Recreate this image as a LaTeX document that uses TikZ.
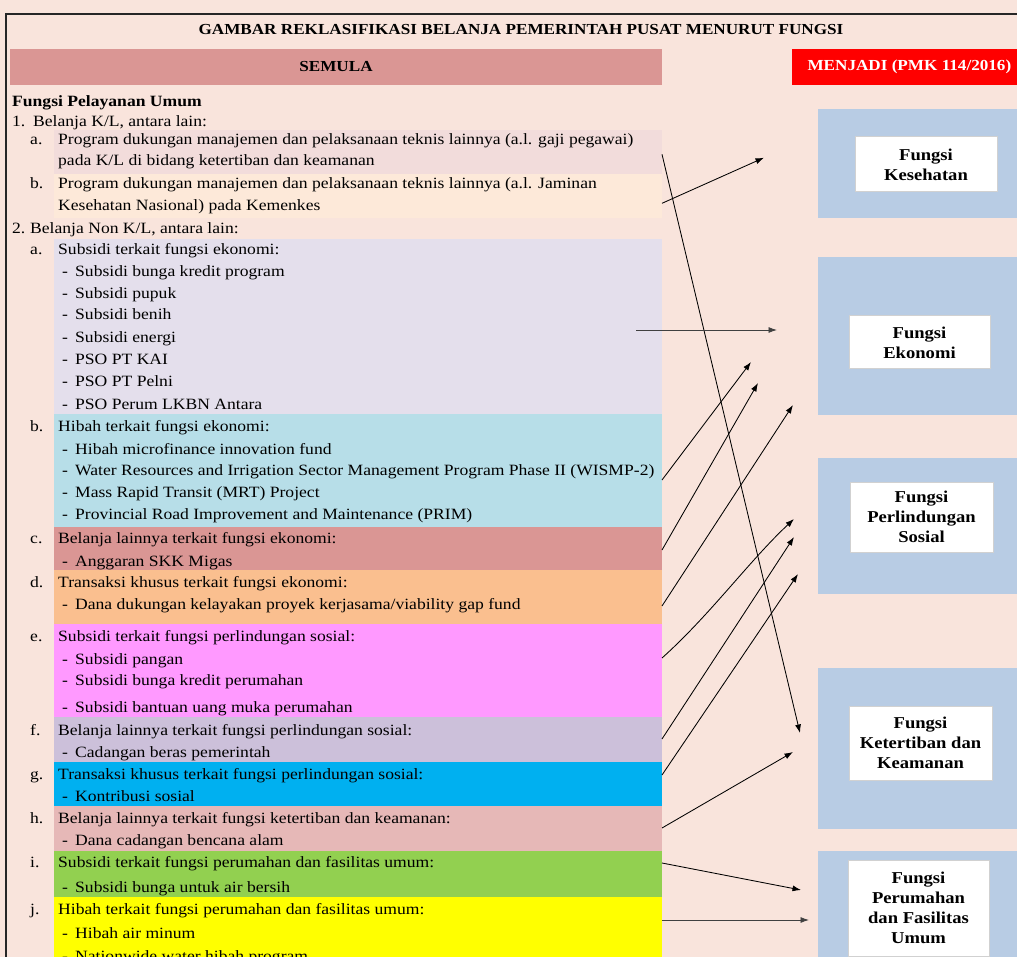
\documentclass[tikz,border=0pt]{standalone}
\usepackage{fontspec}
\setmainfont{Liberation Serif}[FakeStretch=1.12]
\usetikzlibrary{arrows.meta}
\definecolor{bg}{RGB}{249,228,220}
\definecolor{semula}{RGB}{218,150,148}
\definecolor{blu}{RGB}{184,204,228}
\definecolor{cA}{RGB}{242,220,219}
\definecolor{cB}{RGB}{253,233,217}
\definecolor{cC}{RGB}{228,223,236}
\definecolor{cD}{RGB}{183,222,232}
\definecolor{cE}{RGB}{218,150,148}
\definecolor{cF}{RGB}{250,191,143}
\definecolor{cG}{RGB}{255,153,255}
\definecolor{cH}{RGB}{204,192,218}
\definecolor{cI}{RGB}{0,176,240}
\definecolor{cJ}{RGB}{230,184,183}
\definecolor{cK}{RGB}{146,208,80}
\definecolor{cL}{RGB}{255,255,0}
\newcommand{\fsbody}{\fontsize{15.7}{18}\selectfont}
\newcommand{\fshead}{\fontsize{15.3}{17}\selectfont\bfseries}
\newcommand{\fsbox}{\fontsize{16.6}{20}\selectfont\bfseries}
\newcommand{\dsh}{\makebox[13pt][l]{-}}
\begin{document}
\begin{tikzpicture}[x=1pt,y=-1pt,
  txt/.style={anchor=base west, inner sep=0, font=\fsbody},
  rowbox/.style={anchor=north west, inner sep=0, minimum width=608pt, draw=none},
  bluebox/.style={fill=blu, anchor=north west, inner sep=0, minimum width=220pt},
  fbox/.style={fill=white, draw=black!18, line width=1pt, align=center, font=\fsbox, inner sep=0},
  arr/.style={-{Latex[length=8.5pt,width=6pt]}, line width=0.85pt}]
\useasboundingbox (0,0) rectangle (1017,957);
\clip (0,0) rectangle (1017,957);
\fill[bg] (0,0) rectangle (1017,957);
\draw[line width=2.5pt, black!85] (6,970) -- (6,14) -- (1030,14);

% header
\node[font=\fshead] (title) at (521,29.5) {GAMBAR REKLASIFIKASI BELANJA PEMERINTAH PUSAT MENURUT FUNGSI};
\node[fill=semula, anchor=north west, inner sep=0, minimum width=652pt, minimum height=35.5pt] (semula) at (10,49) {};
\node[font=\fshead] at (336,67) {SEMULA};
\node[fill=red, anchor=north west, inner sep=0, minimum width=240pt, minimum height=35.5pt] (menjadi) at (792,49) {};
\node[font=\fshead, text=white, anchor=west] at (804,67) {MENJADI (PMK 114/2016)};

% row boxes
\node[rowbox, fill=cA, minimum height=43.5pt] (r1a) at (54,130) {};
\node[rowbox, fill=cB, minimum height=44.5pt] (r1b) at (54,173.5) {};
\node[rowbox, fill=cC, minimum height=174.3pt] (r2a) at (54,239) {};
\node[rowbox, fill=cD, minimum height=113.4pt] (r2b) at (54,413.3) {};
\node[rowbox, fill=cE, minimum height=43.3pt] (r2c) at (54,526.7) {};
\node[rowbox, fill=cF, minimum height=53.3pt] (r2d) at (54,570) {};
\node[rowbox, fill=cG, minimum height=93.4pt] (r2e) at (54,623.3) {};
\node[rowbox, fill=cH, minimum height=45pt] (r2f) at (54,716.7) {};
\node[rowbox, fill=cI, minimum height=44.3pt] (r2g) at (54,761.7) {};
\node[rowbox, fill=cJ, minimum height=45pt] (r2h) at (54,806) {};
\node[rowbox, fill=cK, minimum height=45.7pt] (r2i) at (54,851) {};
\node[rowbox, fill=cL, minimum height=70pt] (r2j) at (54,896.7) {};

% left texts
\node[txt, font=\fsbody\bfseries] at (12,106.7) {Fungsi Pelayanan Umum};
\node[txt] at (12,126.7) {1.};
\node[txt] at (33,126.7) {Belanja K/L, antara lain:};
\node[txt] at (30,145) {a.};
\node[txt] at (58,145) {Program dukungan manajemen dan pelaksanaan teknis lainnya (a.l. gaji pegawai)};
\node[txt] at (58,165.5) {pada K/L di bidang ketertiban dan keamanan};
\node[txt] at (30,189) {b.};
\node[txt] at (58,189) {Program dukungan manajemen dan pelaksanaan teknis lainnya (a.l. Jaminan};
\node[txt] at (58,211) {Kesehatan Nasional) pada Kemenkes};
\node[txt] at (12,234) {2.};
\node[txt] at (30,234) {Belanja Non K/L, antara lain:};

\node[txt] at (30,255) {a.};
\node[txt] at (58,255) {Subsidi terkait fungsi ekonomi:};
\node[txt] at (62,276.7) {\dsh Subsidi bunga kredit program};
\node[txt] at (62,298.3) {\dsh Subsidi pupuk};
\node[txt] at (62,320) {\dsh Subsidi benih};
\node[txt] at (62,342.3) {\dsh Subsidi energi};
\node[txt] at (62,364.3) {\dsh PSO PT KAI};
\node[txt] at (62,386.7) {\dsh PSO PT Pelni};
\node[txt] at (62,409) {\dsh PSO Perum LKBN Antara};

\node[txt] at (30,431.7) {b.};
\node[txt] at (58,431.7) {Hibah terkait fungsi ekonomi:};
\node[txt] at (62,454) {\dsh Hibah microfinance innovation fund};
\node[txt] at (62,475.7) {\dsh Water Resources and Irrigation Sector Management Program Phase II (WISMP-2)};
\node[txt] at (62,497.3) {\dsh Mass Rapid Transit (MRT) Project};
\node[txt] at (62,519) {\dsh Provincial Road Improvement and Maintenance (PRIM)};

\node[txt] at (30,543) {c.};
\node[txt] at (58,543) {Belanja lainnya terkait fungsi ekonomi:};
\node[txt] at (62,566) {\dsh Anggaran SKK Migas};

\node[txt] at (30,587.7) {d.};
\node[txt] at (58,587.7) {Transaksi khusus terkait fungsi ekonomi:};
\node[txt] at (62,609.3) {\dsh Dana dukungan kelayakan proyek kerjasama/viability gap fund};

\node[txt] at (30,641.7) {e.};
\node[txt] at (58,641.7) {Subsidi terkait fungsi perlindungan sosial:};
\node[txt] at (62,664) {\dsh Subsidi pangan};
\node[txt] at (62,685.5) {\dsh Subsidi bunga kredit perumahan};
\node[txt] at (62,712.7) {\dsh Subsidi bantuan uang muka perumahan};

\node[txt] at (30,735.5) {f.};
\node[txt] at (58,735.5) {Belanja lainnya terkait fungsi perlindungan sosial:};
\node[txt] at (62,757.3) {\dsh Cadangan beras pemerintah};

\node[txt] at (30,779.3) {g.};
\node[txt] at (58,779.3) {Transaksi khusus terkait fungsi perlindungan sosial:};
\node[txt] at (62,801) {\dsh Kontribusi sosial};

\node[txt] at (30,823) {h.};
\node[txt] at (58,823) {Belanja lainnya terkait fungsi ketertiban dan keamanan:};
\node[txt] at (62,845) {\dsh Dana cadangan bencana alam};

\node[txt] at (30,867.5) {i.};
\node[txt] at (58,867.5) {Subsidi terkait fungsi perumahan dan fasilitas umum:};
\node[txt] at (62,892.3) {\dsh Subsidi bunga untuk air bersih};

\node[txt] at (30,914.5) {j.};
\node[txt] at (58,914.5) {Hibah terkait fungsi perumahan dan fasilitas umum:};
\node[txt] at (62,938.5) {\dsh Hibah air minum};
\node[txt] at (62,961) {\dsh Nationwide water hibah program};

% right column
\node[bluebox, minimum height=109pt] (b1) at (818,109) {};
\node[bluebox, minimum height=158pt] (b2) at (818,257) {};
\node[bluebox, minimum height=136pt] (b3) at (818,458) {};
\node[bluebox, minimum height=161pt] (b4) at (818,668) {};
\node[bluebox, minimum height=120pt] (b5) at (818,851) {};

\node[fbox, minimum width=142pt, minimum height=55pt] (kes) at (926,164.5) {Fungsi\\Kesehatan};
\node[fbox, minimum width=141pt, minimum height=53pt] (eko) at (919.5,342.5) {Fungsi\\Ekonomi};
\node[fbox, minimum width=143pt, minimum height=70pt] (per) at (921.5,517) {Fungsi\\Perlindungan\\Sosial};
\node[fbox, minimum width=143pt, minimum height=74pt] (ket) at (920.5,743) {Fungsi\\Ketertiban dan\\Keamanan};
\node[fbox, minimum width=141pt, minimum height=96pt] (rum) at (918.5,908) {Fungsi\\Perumahan\\dan Fasilitas\\Umum};

% arrow end points
\coordinate (s1) at (662,154.3);  \coordinate (t1) at (800,733);
\coordinate (s2) at (662,203.3);  \coordinate (t2) at (764,157.7);
\coordinate (s3) at (636,330);    \coordinate (t3) at (777,330);
\coordinate (s4) at (662,480);    \coordinate (t4) at (751,362);
\coordinate (s5) at (662,550);    \coordinate (t5) at (758,383);
\coordinate (s6) at (662,606);    \coordinate (t6) at (793,405);
\coordinate (s7) at (662,658);    \coordinate (t7) at (794,519);
\coordinate (s8) at (662,739);    \coordinate (t8) at (794,537);
\coordinate (s9) at (662,775);    \coordinate (t9) at (798,574);
\coordinate (s10) at (662,828);   \coordinate (t10) at (793,752);
\coordinate (s11) at (662,863);   \coordinate (t11) at (801,890);
\coordinate (s12) at (662,920);   \coordinate (t12) at (809,920);

\draw[arr] (s1) -- (t1);
\draw[arr] (s2) -- (t2);
\draw[arr, black!75] (s3) -- (t3);
\draw[arr] (s4) -- (t4);
\draw[arr] (s5) -- (t5);
\draw[arr] (s6) -- (t6);
\draw[arr] (s7) .. controls (710,615) and (750,560) .. (t7);
\draw[arr] (s8) -- (t8);
\draw[arr] (s9) -- (t9);
\draw[arr] (s10) -- (t10);
\draw[arr] (s11) -- (t11);
\draw[arr, black!75] (s12) -- (t12);
\end{tikzpicture}
\end{document}
